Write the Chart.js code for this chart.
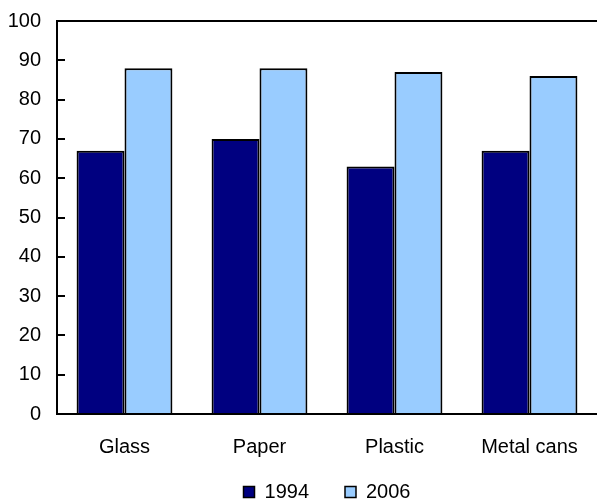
<!DOCTYPE html>
<html>
<head>
<meta charset="utf-8">
<script src="https://cdn.jsdelivr.net/npm/chart.js@4/dist/chart.umd.min.js"></script>
<style>
  html, body { margin: 0; padding: 0; background: #ffffff; }
  #wrap { width: 597px; height: 502px; }
</style>
</head>
<body>
<div id="wrap"><canvas id="c" width="597" height="502"></canvas></div>
<script>
// Recycling rates by material, percent
const categories = ['Glass', 'Paper', 'Plastic', 'Metal cans'];
const rates1994 = [67, 70, 63, 67];
const rates2006 = [88, 88, 87, 86];
const seriesLabels = ['1994', '2006'];
const yTicks = [0, 10, 20, 30, 40, 50, 60, 70, 80, 90, 100];

const FONT = { family: '"Liberation Sans", Arial, Helvetica, sans-serif', size: 20 };
const LEGEND_PAD = 36;      // spacing between legend entries
const LEGEND_ROW_Y = 492;   // vertical centre of the legend row

// Place the legend row at a fixed height below the category labels
const legendRow = {
  id: 'legendRow',
  afterLayout(chart) {
    const lg = chart.legend;
    if (!lg) return;
    const itemH = Math.max(FONT.size, 11);
    lg.top = LEGEND_ROW_Y - LEGEND_PAD - itemH / 2;
    lg.bottom = lg.top + 2 * LEGEND_PAD + itemH + 20;
  }
};

new Chart(document.getElementById('c'), {
  type: 'bar',
  data: {
    labels: categories,
    datasets: [
      { label: seriesLabels[0], data: rates1994, backgroundColor: '#000080',
        borderColor: '#000000', borderWidth: 2 },
      { label: seriesLabels[1], data: rates2006, backgroundColor: '#99ccff',
        borderColor: '#000000', borderWidth: 2 }
    ]
  },
  plugins: [legendRow],
  options: {
    responsive: false,
    animation: false,
    devicePixelRatio: 1,
    layout: { autoPadding: false, padding: { top: 21, right: 0, bottom: 0, left: 0 } },
    datasets: { bar: { categoryPercentage: 0.71, barPercentage: 1.0 } },
    scales: {
      x: {
        grid: { display: false, drawTicks: false },
        border: { display: true, color: '#000000', width: 2 },
        ticks: { color: '#000000', font: FONT, padding: 21 },
        afterFit: s => { s.height = 48; s.paddingLeft = 0; s.paddingRight = 0; }
      },
      y: {
        min: 0, max: 100,
        afterBuildTicks: s => { s.ticks = yTicks.map(v => ({ value: v })); },
        grid: {
          color: ctx => (ctx.tick && ctx.tick.value === 100 ? '#000000' : 'rgba(0,0,0,0)'),
          lineWidth: 2,
          drawTicks: true,
          tickLength: -8,
          tickColor: '#000000',
          tickWidth: 2
        },
        border: { display: true, color: '#000000', width: 2 },
        ticks: { color: '#000000', font: FONT, padding: 24 },
        afterFit: s => { s.width = 57; s.paddingTop = 0; s.paddingBottom = 0; }
      }
    },
    plugins: {
      legend: {
        position: 'bottom',
        fullSize: false,
        maxHeight: 40,
        labels: {
          color: '#000000',
          font: FONT,
          boxWidth: 11,
          boxHeight: 11,
          padding: LEGEND_PAD,
          generateLabels: chart => chart.data.datasets.map((ds, i) => ({
            text: ds.label,
            fillStyle: ds.backgroundColor,
            strokeStyle: '#000000',
            lineWidth: 1.5,
            datasetIndex: i
          }))
        }
      },
      tooltip: { enabled: false }
    }
  }
});
</script>
</body>
</html>
